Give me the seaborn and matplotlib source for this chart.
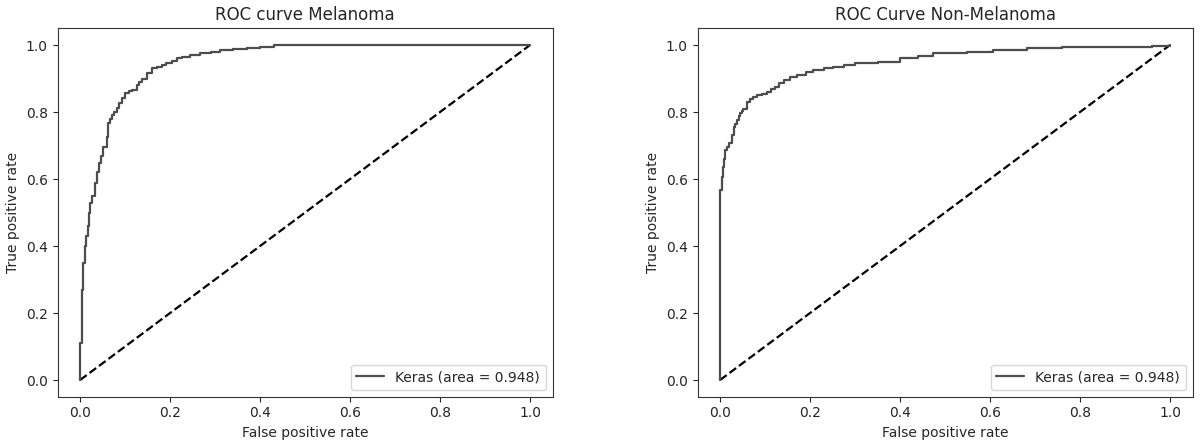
import matplotlib
matplotlib.use("Agg")
import matplotlib.pyplot as plt
import seaborn as sns
import pandas as pd

sns.set_style("ticks")
plt.rcParams['font.family'] = ['DejaVu Sans']

# ROC points (fpr, tpr)
mel_fpr = [0.0, 0.0, 0.004, 0.007, 0.010, 0.013, 0.017, 0.020, 0.022, 0.027,
           0.033, 0.037, 0.041, 0.046, 0.052, 0.059, 0.063, 0.067, 0.070, 0.076,
           0.081, 0.087, 0.093, 0.100, 0.108, 0.115, 0.126, 0.131, 0.137, 0.148,
           0.159, 0.170, 0.181, 0.192, 0.204, 0.215, 0.226, 0.245, 0.267, 0.290,
           0.310, 0.340, 0.370, 0.400, 0.430, 1.0]
mel_tpr = [0.0, 0.11, 0.27, 0.35, 0.40, 0.43, 0.46, 0.50, 0.527, 0.55,
           0.587, 0.62, 0.647, 0.67, 0.696, 0.726, 0.766, 0.78, 0.791, 0.80,
           0.811, 0.826, 0.841, 0.858, 0.862, 0.866, 0.881, 0.89, 0.90, 0.915,
           0.93, 0.935, 0.94, 0.947, 0.953, 0.96, 0.965, 0.97, 0.975, 0.98,
           0.985, 0.988, 0.99, 0.995, 1.0, 1.0]

non_fpr = [0.0, 0.0, 0.004, 0.007, 0.009, 0.011, 0.015, 0.019, 0.026, 0.030,
           0.033, 0.037, 0.041, 0.044, 0.048, 0.052, 0.059, 0.067, 0.074, 0.081,
           0.093, 0.104, 0.113, 0.122, 0.131, 0.141, 0.155, 0.170, 0.190, 0.207,
           0.230, 0.250, 0.275, 0.300, 0.350, 0.400, 0.440, 0.474, 0.548, 0.607,
           0.681, 0.760, 0.830, 0.960, 1.0]
non_tpr = [0.0, 0.567, 0.607, 0.637, 0.66, 0.687, 0.697, 0.707, 0.73, 0.756,
           0.765, 0.776, 0.787, 0.797, 0.803, 0.81, 0.831, 0.84, 0.845, 0.85,
           0.855, 0.86, 0.868, 0.876, 0.886, 0.896, 0.903, 0.91, 0.918, 0.925,
           0.93, 0.935, 0.94, 0.945, 0.95, 0.96, 0.968, 0.975, 0.98, 0.985,
           0.99, 0.993, 0.995, 0.997, 1.0]

chance = [0.0, 1.0]
auc_label = 'Keras (area = 0.948)'
titles = ['ROC curve Melanoma', 'ROC Curve Non-Melanoma']

fig = plt.figure(figsize=(12, 4.47), dpi=100)
ax1 = fig.add_axes([0.048, 0.1124, 0.4125, 0.8244])
ax2 = fig.add_axes([0.5813, 0.1124, 0.4125, 0.8244])

for ax, fpr, tpr, title in [(ax1, mel_fpr, mel_tpr, titles[0]),
                            (ax2, non_fpr, non_tpr, titles[1])]:
    df = pd.DataFrame({'fpr': fpr, 'tpr': tpr})
    ax.plot(chance, chance, 'k--', lw=1.6)
    sns.lineplot(data=df, x='fpr', y='tpr', ax=ax, estimator=None,
                 drawstyle='steps-post', color='#4d4d4d', lw=1.6,
                 label=auc_label)
    ax.set_xlim(-0.05, 1.05)
    ax.set_ylim(-0.05, 1.05)
    ax.set_xticks([0.0, 0.2, 0.4, 0.6, 0.8, 1.0])
    ax.set_yticks([0.0, 0.2, 0.4, 0.6, 0.8, 1.0])
    ax.set_xlabel('False positive rate')
    ax.set_ylabel('True positive rate')
    ax.set_title(title, fontsize=12)
    ax.legend(loc='lower right')
    for s in ax.spines.values():
        s.set_color('#333333')

fig.savefig('out.png', dpi=100)
